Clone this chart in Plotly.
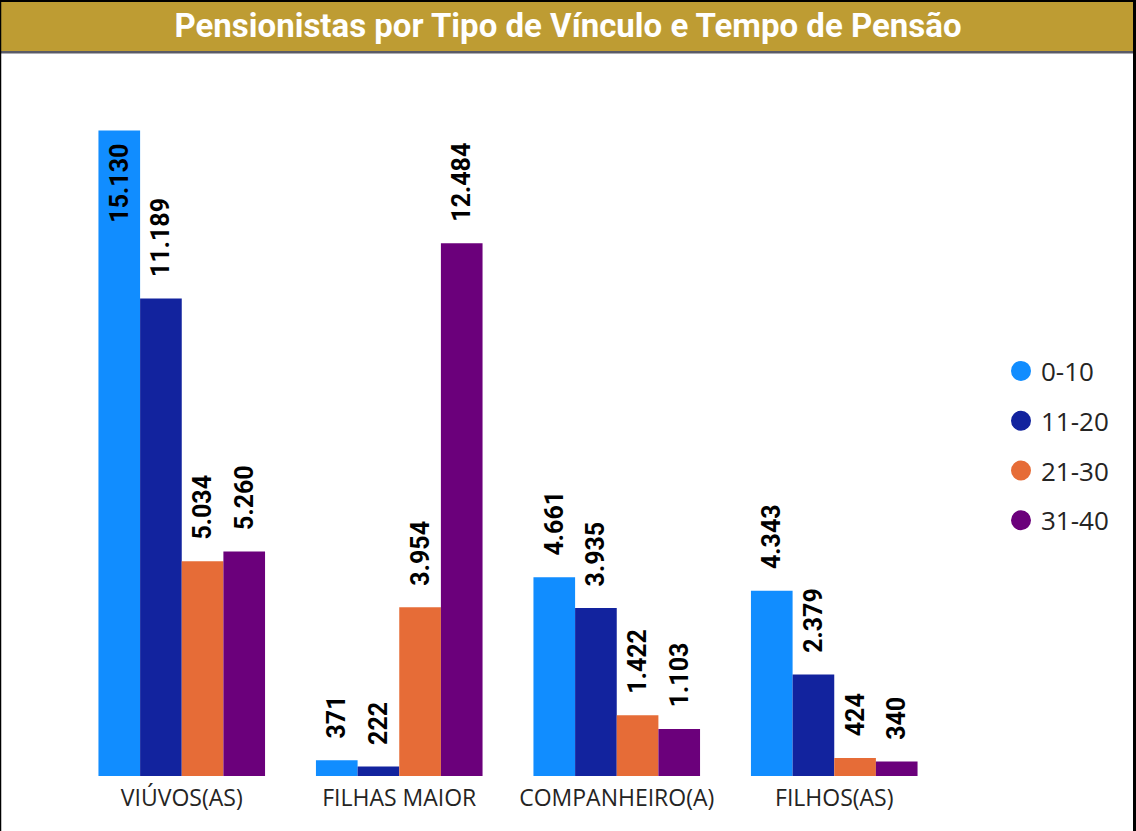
import plotly.graph_objects as go

categories = ["VIÚVOS(AS)", "FILHAS MAIOR", "COMPANHEIRO(A)", "FILHOS(AS)"]
series_names = ["0-10", "11-20", "21-30", "31-40"]
v_0_10 = [15130, 371, 4661, 4343]
v_11_20 = [11189, 222, 3935, 2379]
v_21_30 = [5034, 3954, 1422, 424]
v_31_40 = [5260, 12484, 1103, 340]
series_values = [v_0_10, v_11_20, v_21_30, v_31_40]
colors = ["#118DFF", "#12239E", "#E66C37", "#6B007B"]

W, H = 1136, 831
ML, MR, MT, MB = 73, 193, 72, 55
PW, PH = W - ML - MR, H - MT - MB
YMAX = 16500

def px_x(p):
    return (p - ML) / PW

def px_y(p):
    return (H - MB - p) / PH

NB = "\u00a0"
TS = "\u2009"

def fmt(v):
    return f"{v:,}".replace(",", ".")

LABEL_FONT = dict(family="Roboto", size=25, color="#000000", weight="bold")

fig = go.Figure()
for name, vals, col in zip(series_names, series_values, colors):
    texts, pos = [], []
    for v in vals:
        # labels that would not fit above the axis range go inside the bar
        if v > 0.88 * YMAX:
            texts.append(fmt(v) + TS + TS)
            pos.append("inside")
        else:
            texts.append(NB * 3 + fmt(v))
            pos.append("outside")
    fig.add_trace(go.Bar(
        x=categories, y=vals, name=name, marker=dict(color=col, line=dict(width=0)),
        text=texts, textposition=pos, textangle=-90, insidetextanchor="end",
        textfont=LABEL_FONT, insidetextfont=LABEL_FONT, outsidetextfont=LABEL_FONT,
        cliponaxis=False, constraintext="none", showlegend=False, hoverinfo="skip",
    ))
    fig.add_trace(go.Scatter(
        x=[None], y=[None], mode="markers", name=name, legendgroup=name,
        marker=dict(symbol="circle", size=16, color=col, line=dict(color=col, width=4)),
        showlegend=True,
    ))

shapes = [
    # title bar
    dict(type="rect", xref="paper", yref="paper", x0=px_x(0), x1=px_x(W), y0=px_y(51), y1=px_y(0),
         fillcolor="#BE9C33", line=dict(width=0), layer="below"),
    dict(type="rect", xref="paper", yref="paper", x0=px_x(0), x1=px_x(W), y0=px_y(53.5), y1=px_y(51),
         fillcolor="#5A5B66", line=dict(width=0), layer="below"),
    # border lines
    dict(type="line", xref="paper", yref="paper", x0=px_x(0), x1=px_x(W), y0=px_y(1), y1=px_y(1),
         line=dict(color="#000000", width=2)),
    dict(type="line", xref="paper", yref="paper", x0=px_x(0.5), x1=px_x(0.5), y0=px_y(0), y1=px_y(H),
         line=dict(color="#000000", width=1.5)),
    dict(type="line", xref="paper", yref="paper", x0=px_x(1134.5), x1=px_x(1134.5), y0=px_y(0), y1=px_y(H),
         line=dict(color="#000000", width=3)),
]

fig.update_layout(
    width=W, height=H,
    margin=dict(l=ML, r=MR, t=MT, b=MB, pad=0),
    paper_bgcolor="#FFFFFF", plot_bgcolor="#FFFFFF",
    barmode="group", bargap=0.234, bargroupgap=0,
    title=dict(text="<b>Pensionistas por Tipo de Vínculo e Tempo de Pensão</b>",
               font=dict(family="Roboto", size=33, color="#FFFFFF"),
               x=0.5, xanchor="center", xref="container",
               y=1 - 25 / H, yanchor="middle", yref="container"),
    xaxis=dict(showgrid=False, zeroline=False, showline=False, ticks="",
               ticklabelstandoff=6,
               tickfont=dict(family="Open Sans", size=23, color="#252423")),
    yaxis=dict(range=[0, YMAX], visible=False, showgrid=False, zeroline=False),
    legend=dict(x=px_x(1001), xanchor="left", y=px_y(446), yanchor="middle",
                font=dict(family="Open Sans", size=26, color="#252423"),
                tracegroupgap=13, itemsizing="trace", bgcolor="rgba(0,0,0,0)"),
    shapes=shapes,
    showlegend=True,
)

fig.write_html("out.html", config={"displayModeBar": False},
               post_script="document.body.style.margin='0';")
